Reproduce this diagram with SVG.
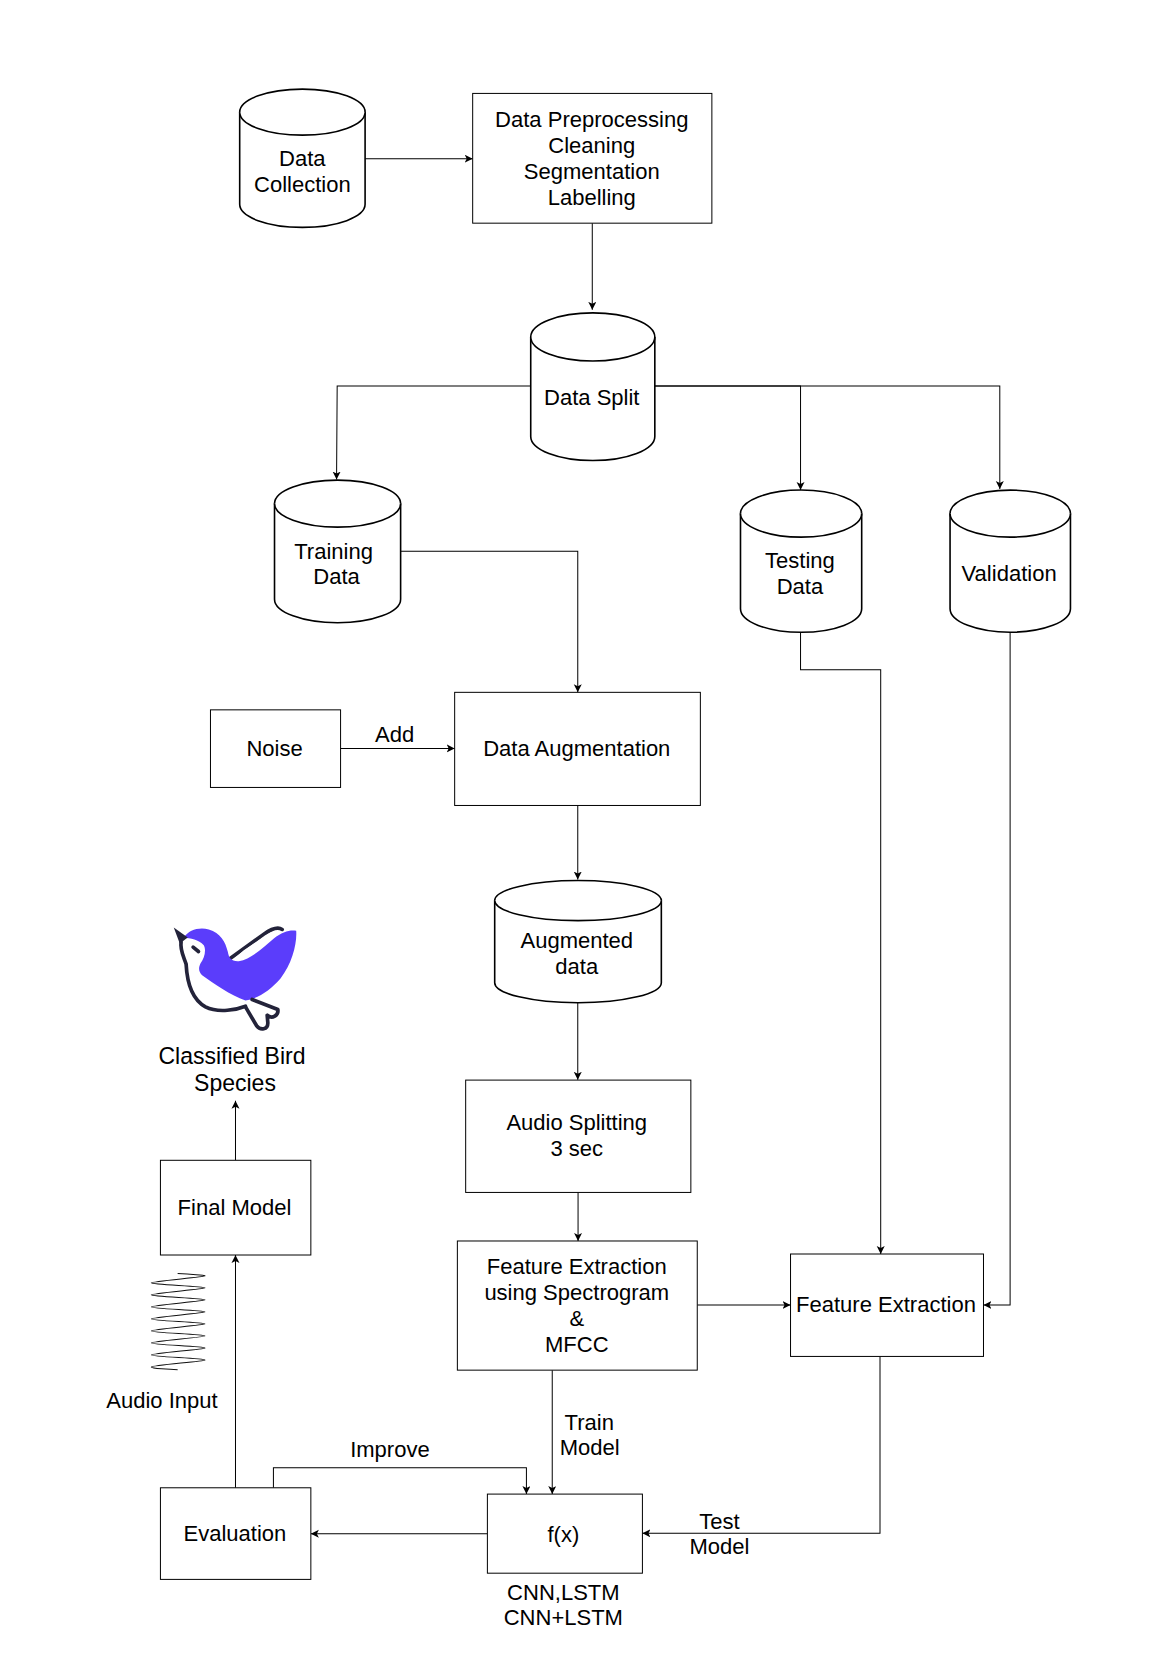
<svg xmlns="http://www.w3.org/2000/svg" width="1169" height="1654" viewBox="0 0 1169 1654">
<style>
text{font-family:"Liberation Sans",Arial,sans-serif;font-size:22px;fill:#000;text-anchor:middle;transform:translateY(-.6px)}
.big{font-size:23px}
.box{fill:#fff;stroke:#000;stroke-width:1}
.cyl{fill:#fff;stroke:#000;stroke-width:1.6}
.con{fill:none;stroke:#000;stroke-width:1;marker-end:url(#arr)}
.dk{fill:none;stroke:#23233a;stroke-width:11;stroke-linecap:round;stroke-linejoin:round}
</style>
<defs>
<marker id="arr" markerUnits="userSpaceOnUse" markerWidth="10" markerHeight="10" refX="8" refY="4" orient="auto"><path d="M0 0L8 4L0 8L2 4Z" fill="#000"/></marker>
</defs>
<rect width="1169" height="1654" fill="#fff"/>
<g transform="translate(.3 -.5) scale(1.0008 1.0012)">
<g id="connectors">
<path class="con" d="M364.500 159H472"/>
<path class="con" d="M591.500 223.400V310"/>
<path class="con" d="M530 386H336.600L336 479.500"/>
<path class="con" d="M654 386H799.600V490"/>
<path class="con" d="M654 386H998.700V489"/>
<path class="con" d="M400 551H577V692"/>
<path class="con" d="M340 748H454"/>
<path class="con" d="M577 805V879"/>
<path class="con" d="M577 1002V1079"/>
<path class="con" d="M577.300 1191.500V1240"/>
<path class="con" d="M696.400 1304H789.600"/>
<path class="con" d="M799.600 632V669.500H879.700V1253"/>
<path class="con" d="M1009 632V1304H982.400"/>
<path class="con" d="M551.500 1369V1492.800"/>
<path class="con" d="M879 1355.300V1532H641.600"/>
<path class="con" d="M486.700 1532.300H310.300"/>
<path class="con" d="M272.900 1486.500V1466.500H525.700V1492.800"/>
<path class="con" d="M235 1486.500V1254"/>
<path class="con" d="M235 1159.400V1100"/>
</g>
<g id="data-collection"><path class="cyl" d="M239.200 112.500A62.650 23 0 0 1 364.500 112.500V204.600A62.650 23 0 0 1 239.200 204.600Z"/><path class="cyl" d="M239.200 112.500A62.650 23 0 0 0 364.500 112.500"/><text x="301.800" y="167">Data</text><text x="301.800" y="192.500">Collection</text></g>
<g id="data-preprocessing"><rect class="box" x="472" y="93.800" width="239" height="129.600"/><text x="591" y="127.500">Data Preprocessing</text><text x="591" y="153.500">Cleaning</text><text x="591" y="179.500">Segmentation</text><text x="591" y="205.500">Labelling</text></g>
<g id="data-split"><path class="cyl" d="M530 337A62 24 0 0 1 654 337V436.400A62 24 0 0 1 530 436.400Z"/><path class="cyl" d="M530 337A62 24 0 0 0 654 337"/><text x="591" y="406">Data Split</text></g>
<g id="training-data"><path class="cyl" d="M274 503.500A63 23.500 0 0 1 400 503.500V599A63 23.500 0 0 1 274 599Z"/><path class="cyl" d="M274 503.500A63 23.500 0 0 0 400 503.500"/><text x="333" y="559">Training</text><text x="336" y="584">Data</text></g>
<g id="testing-data"><path class="cyl" d="M739.600 513.500A60.500 23.500 0 0 1 860.700 513.500V608.500A60.500 23.500 0 0 1 739.600 608.500Z"/><path class="cyl" d="M739.600 513.500A60.500 23.500 0 0 0 860.700 513.500"/><text x="799" y="568">Testing</text><text x="799" y="594">Data</text></g>
<g id="validation"><path class="cyl" d="M949 513.500A60.150 23.500 0 0 1 1069.300 513.500V608.500A60.150 23.500 0 0 1 949 608.500Z"/><path class="cyl" d="M949 513.500A60.150 23.500 0 0 0 1069.300 513.500"/><text x="1008" y="581">Validation</text></g>
<g id="noise"><rect class="box" x="210" y="709.500" width="130" height="77.500"/><text x="274" y="756">Noise</text></g>
<g id="add-label"><text x="394" y="742">Add</text></g>
<g id="data-augmentation"><rect class="box" x="454" y="692" width="245.500" height="113"/><text x="576" y="756">Data Augmentation</text></g>
<g id="augmented-data"><path class="cyl" d="M494 900A83.250 20 0 0 1 660.500 900V982A83.250 20 0 0 1 494 982Z"/><path class="cyl" d="M494 900A83.250 20 0 0 0 660.500 900"/><text x="576" y="948">Augmented</text><text x="576" y="973.500">data</text></g>
<g id="audio-splitting"><rect class="box" x="465" y="1079.300" width="225" height="112.200"/><text x="576" y="1130">Audio Splitting</text><text x="576" y="1156">3 sec</text></g>
<g id="feature-spectrogram"><rect class="box" x="456.700" y="1240" width="239.700" height="129"/><text x="576" y="1273.500">Feature Extraction</text><text x="576" y="1299.500">using Spectrogram</text><text x="576" y="1326">&amp;</text><text x="576" y="1351.500">MFCC</text></g>
<g id="feature-extraction"><rect class="box" x="789.600" y="1253" width="192.800" height="102.300"/><text x="885" y="1312">Feature Extraction</text></g>
<g id="train-label"><text x="588.500" y="1429">Train</text><text x="589" y="1454">Model</text></g>
<g id="fx"><rect class="box" x="486.700" y="1492.800" width="154.900" height="79"/><text x="562.600" y="1541">f(x)</text></g>
<g id="cnn-label"><text x="562.600" y="1599">CNN,LSTM</text><text x="562.600" y="1624">CNN+LSTM</text></g>
<g id="test-label"><text x="718.500" y="1528">Test</text><text x="718.500" y="1553">Model</text></g>
<g id="evaluation"><rect class="box" x="160" y="1486.500" width="150.300" height="91.500"/><text x="234.400" y="1540">Evaluation</text></g>
<g id="improve-label"><text x="389.300" y="1456.500">Improve</text></g>
<g id="final-model"><rect class="box" x="160" y="1159.400" width="150.300" height="94.600"/><text x="234" y="1214.500">Final Model</text></g>
<g id="classified"><text class="big" x="231.500" y="1063.500">Classified Bird</text><text class="big" x="234.500" y="1091">Species</text></g>
<g id="audio-input"><path transform="translate(-.8 -.8)" d="M178 1273.300C190 1273.800 206 1275 205.300 1275.700C205 1277 152 1281 151.700 1282.700C152 1284.500 205 1286 205.300 1287.700C205 1289 152 1293 151.700 1294.700C152 1296.500 205 1298 205.300 1299.700C205 1301 152 1305 151.700 1306.700C152 1308.500 205 1310 205.300 1311.700C205 1313 152 1317 151.700 1318.700C152 1320.500 205 1322 205.300 1323.700C205 1325 152 1329 151.700 1330.700C152 1332.500 205 1334 205.300 1335.700C205 1337 152 1341 151.700 1342.700C152 1344.500 205 1346 205.300 1347.700C205 1349 152 1353 151.700 1354.700C152 1356.500 205 1358 205.300 1359.700C205 1361 152 1365 151.700 1366.700C152 1368 170 1369.300 178 1369.300" fill="none" stroke="#111" stroke-width="1"/><text x="161.500" y="1407">Audio Input</text></g>
<g id="bird" transform="translate(130 899.500) scale(.3333)">
<path d="M150 118C148 145 160 170 165 190C168 250 185 300 225 322C270 340 320 328 345 318L370 296L300 200L210 110Z" fill="#fff"/>
<path class="dk" d="M300 174L400 102C420 88 440 78 455 88"/>
<path d="M308 178C360 178 420 120 462 94L420 97L340 150Z" fill="#fff"/>
<path d="M160 112C175 90 205 80 235 88C270 98 285 125 292 155C296 175 302 184 325 183C360 178 395 145 430 115C455 95 480 88 497 92C500 130 485 190 450 235C420 270 380 297 345 301C300 285 250 250 215 225C205 215 203 205 210 190C222 175 228 150 220 135C205 118 180 115 160 112Z" fill="#5b3dfb"/>
<path class="dk" d="M152 125C148 150 160 170 167 192C170 250 185 298 225 320C265 340 320 328 345 318"/>
<path class="dk" d="M345 320L378 376C390 392 412 388 412 368L410 345C425 358 445 345 442 328L365 298"/>
<path class="dk" d="M188 141L204 154"/>
<path d="M130 82L172 112L148 130Z" fill="#23233a"/>
</g>
</g>
</svg>
